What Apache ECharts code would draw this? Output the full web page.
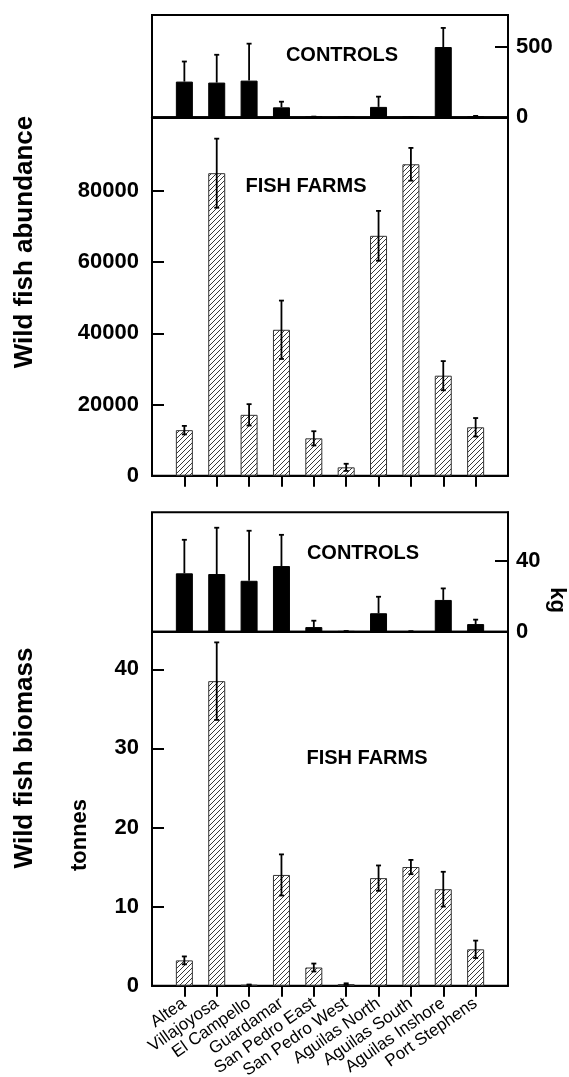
<!DOCTYPE html>
<html><head><meta charset="utf-8">
<script src="https://cdn.jsdelivr.net/npm/echarts@6/dist/echarts.min.js"></script>
<style>html,body{margin:0;padding:0;background:#fff}#c{width:569px;height:1077px}</style>
</head><body><div id="c"></div>
<script>
const categories = ['Altea','Villajoyosa','El Campello','Guardamar','San Pedro East','San Pedro West','Aguilas North','Aguilas South','Aguilas Inshore','Port Stephens'];
const abundControl    = [254, 247, 261, 71, 3, 2, 74, 2, 500, 5];
const abundControlErr = [143, 198, 263, 40, 2, 1, 73, 1, 136, 5];
const abundFarm       = [12800, 85000, 17100, 41000, 10500, 2350, 67400, 87500, 28100, 13600];
const abundFarmErr    = [1200, 9700, 3000, 8200, 2000, 1000, 7000, 4600, 4100, 2600];
const biomControl     = [32.9, 32.5, 28.7, 37.0, 2.6, 0.3, 10.4, 0.2, 17.9, 4.3];
const biomControlErr  = [18.9, 26.1, 28.2, 17.6, 3.6, 0.1, 9.3, 0.1, 6.5, 2.5];
const biomFarm        = [3.2, 38.5, 0.1, 14.0, 2.3, 0.2, 13.6, 15.0, 12.2, 4.6];
const biomFarmErr     = [0.5, 4.9, 0.05, 2.6, 0.5, 0.1, 1.6, 0.9, 2.2, 1.1];
const abundControlTicks = [0, 500];
const abundFarmTicks = [0, 20000, 40000, 60000, 80000];
const biomControlTicks = [0, 40];
const biomFarmTicks = [0, 10, 20, 30, 40];

const FONT = 'Liberation Sans, Arial, sans-serif';
const xCats = [''].concat(categories, ['']);
const inner = (i) => i > 0 && i < xCats.length - 1;

// hatch pattern
const pc = document.createElement('canvas');
pc.width = 5; pc.height = 5;
const g = pc.getContext('2d');
g.fillStyle = '#fff'; g.fillRect(0,0,5,5);
g.strokeStyle = '#222'; g.lineWidth = 0.9;
g.beginPath();
g.moveTo(0,5); g.lineTo(5,0);
g.moveTo(-1,1); g.lineTo(1,-1);
g.moveTo(4,6); g.lineTo(6,4);
g.stroke();
const hatch = {image: pc, repeat: 'repeat'};

const grids = [
  {left:152, width:356, top:15, height:102.3},
  {left:152, width:356, top:117.3, height:358.4},
  {left:152, width:356, top:512.3, height:119.4},
  {left:152, width:356, top:631.7, height:354}
].map(gr => Object.assign({show:true, borderColor:'#000', borderWidth:2, backgroundColor:'transparent', containLabel:false, outerBoundsMode:'none'}, gr));

function xAx(idx, ticks, labels){
  return {
    type:'category', gridIndex:idx, data:xCats, boundaryGap:false,
    axisLine:{show:true, lineStyle:{color:'#000', width:2}},
    axisTick:{show:ticks, inside:false, length:11, interval:(i)=>inner(i), lineStyle:{color:'#000', width:2}},
    axisLabel:{show:labels, interval:(i)=>inner(i), rotate:35, fontFamily:FONT, fontSize:17, color:'#000', margin:16},
    splitLine:{show:false}
  };
}
function yAx(idx, pos, max, ticks, tickLen, margin){
  return {
    type:'value', gridIndex:idx, position:pos, min:0, max:max,
    axisLine:{show:true, lineStyle:{color:'#000', width:2}},
    axisTick:{show:true, inside:true, length:tickLen, customValues:ticks, lineStyle:{color:'#000', width:2}},
    axisLabel:{show:true, customValues:ticks, formatter:(v)=>String(v), fontFamily:FONT, fontSize:22, fontWeight:'bold', color:'#000', margin:margin},
    splitLine:{show:false}
  };
}

function errRender(upOnly){
  return function(params, api){
    const i = api.value(0), v = api.value(1), e = api.value(2);
    const pT = api.coord([i, v + e]);
    const pB = api.coord([i, upOnly ? v : Math.max(0, v - e)]);
    const cw = 2.5;
    const st = {stroke:'#000', lineWidth:1.8, fill:null};
    const ch = [
      {type:'line', shape:{x1:pT[0], y1:pT[1], x2:pB[0], y2:pB[1]}, style:st},
      {type:'line', shape:{x1:pT[0]-cw, y1:pT[1], x2:pT[0]+cw, y2:pT[1]}, style:st}
    ];
    if (!upOnly) ch.push({type:'line', shape:{x1:pB[0]-cw, y1:pB[1], x2:pB[0]+cw, y2:pB[1]}, style:st});
    return {type:'group', children:ch};
  };
}
const pad = (arr) => ['-'].concat(arr, ['-']);
const errData = (vals, errs) => vals.map((v, i) => [i + 1, v, errs[i]]);

function barSeries(idx, vals, solid){
  return {
    type:'bar', xAxisIndex:idx, yAxisIndex:idx, data:pad(vals), barWidth:17, z:3,
    itemStyle: solid ? {color:'#000', borderColor:'#000', borderWidth:1}
                     : {color:hatch, borderColor:'#333', borderWidth:1}
  };
}
function errSeries(idx, vals, errs, upOnly){
  return {
    type:'custom', xAxisIndex:idx, yAxisIndex:idx, data:errData(vals, errs), z:5,
    encode:{x:0, y:1}, renderItem:errRender(upOnly)
  };
}

const txt = (x, y, s, size, rot, weight) => ({
  type:'text', x:x, y:y, rotation:rot || 0, z:10,
  style:{text:s, fontFamily:FONT, fontSize:size, fontWeight:weight || 'bold', fill:'#000', align:'center', verticalAlign:'middle'}
});

const chart = echarts.init(document.getElementById('c'), null, {renderer:'canvas'});
chart.setOption({
  animation:false,
  backgroundColor:'#fff',
  grid:grids,
  xAxis:[xAx(0,false,false), xAx(1,true,false), xAx(2,false,false), xAx(3,true,true)],
  yAxis:[
    yAx(0,'right',728,abundControlTicks,13,8),
    yAx(1,'left',100700,abundFarmTicks,12,13),
    yAx(2,'right',67.3,biomControlTicks,13,8),
    yAx(3,'left',44.75,biomFarmTicks,12,13)
  ],
  series:[
    barSeries(0, abundControl, true), errSeries(0, abundControl, abundControlErr, true),
    barSeries(1, abundFarm, false), errSeries(1, abundFarm, abundFarmErr, false),
    barSeries(2, biomControl, true), errSeries(2, biomControl, biomControlErr, true),
    barSeries(3, biomFarm, false), errSeries(3, biomFarm, biomFarmErr, false)
  ],
  graphic:[
    txt(342, 55, 'CONTROLS', 20),
    txt(306, 186, 'FISH FARMS', 20),
    txt(363, 553, 'CONTROLS', 20),
    txt(367, 758, 'FISH FARMS', 20),
    txt(25, 242, 'Wild fish abundance', 26, Math.PI/2),
    txt(25, 758, 'Wild fish biomass', 26, Math.PI/2),
    txt(80, 835, 'tonnes', 22, Math.PI/2),
    txt(557, 600, 'kg', 22, -Math.PI/2)
  ]
});
</script></body></html>
